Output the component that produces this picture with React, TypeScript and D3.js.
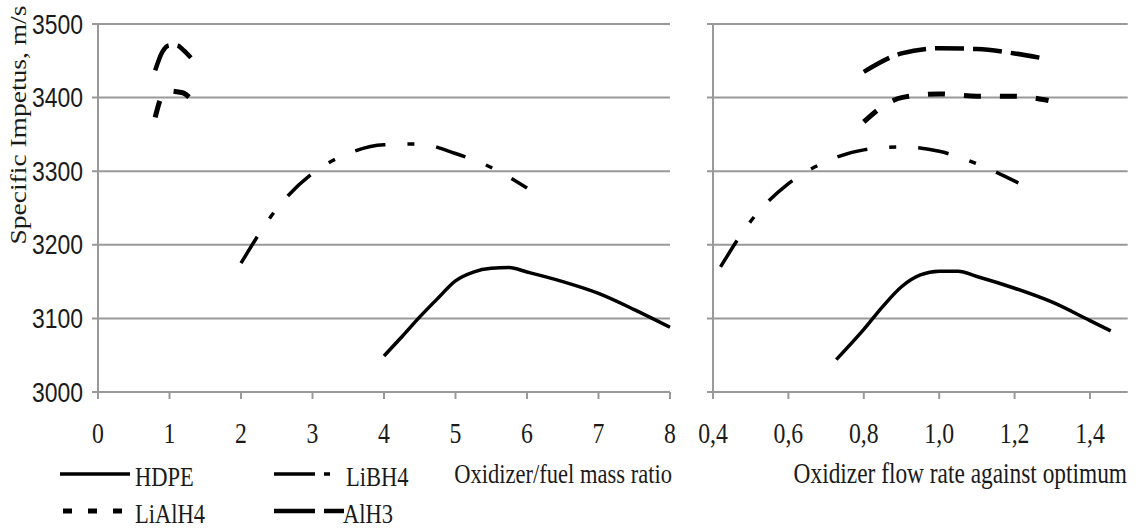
import * as d3 from "d3";

// left panel: oxidizer/fuel mass ratio
const leftHdpeX = [4.0, 4.25, 4.5, 4.75, 5.0, 5.25, 5.5, 5.75, 6.0, 6.5, 7.0, 7.5, 8.0];
const leftHdpeY = [3049, 3075, 3102, 3127, 3151, 3163, 3168, 3169, 3163, 3150, 3134, 3112, 3088];
const leftLibh4X = [2.0, 2.5, 3.0, 3.5, 4.0, 4.5, 5.0, 5.5, 6.0];
const leftLibh4Y = [3175, 3249, 3297, 3324, 3336, 3337, 3324, 3305, 3277];
const leftAlh3X = [0.8, 0.9, 1.0, 1.1, 1.2, 1.3];
const leftAlh3Y = [3437, 3462, 3471, 3471, 3464, 3454];
const leftLialh4X = [0.8, 0.9, 1.0, 1.1, 1.2, 1.3];
const leftLialh4Y = [3373, 3403, 3409, 3408, 3406, 3398];

// right panel: oxidizer flow rate against optimum
const rightHdpeX = [0.727, 0.8, 0.85, 0.9, 0.95, 1.0, 1.05, 1.1, 1.2, 1.3, 1.4, 1.455];
const rightHdpeY = [3044, 3085, 3116, 3143, 3159, 3164, 3164, 3157, 3141, 3122, 3097, 3083];
const rightLibh4X = [0.42, 0.5, 0.6, 0.7, 0.8, 0.9, 1.0, 1.1, 1.21];
const rightLibh4Y = [3170, 3232, 3283, 3313, 3329, 3333, 3327, 3310, 3284];
const rightAlh3X = [0.8, 0.9, 1.0, 1.1, 1.2, 1.28];
const rightAlh3Y = [3435, 3460, 3467, 3466, 3460, 3453];
const rightLialh4X = [0.8, 0.85, 0.9, 1.0, 1.1, 1.2, 1.29];
const rightLialh4Y = [3367, 3388, 3400, 3405, 3402, 3402, 3396];

const yTicks = [3000, 3100, 3200, 3300, 3400, 3500];
const leftXTicks = [0, 1, 2, 3, 4, 5, 6, 7, 8];
const rightXTicks = [0.4, 0.6, 0.8, 1.0, 1.2, 1.4];

const seriesNames = ["HDPE", "LiBH4", "LiAlH4", "AlH3"];

const W = 1139;
const H = 529;
const SX = 0.82; // the picture's text is squeezed sideways
const SERIF = "'Liberation Serif', 'Times New Roman', serif";
const SANS = "'Liberation Sans', Arial, sans-serif";
const GRID = "#999999";

const styles: Record<string, { dash: string; width: number; legendDash: string }> = {
  HDPE: { dash: "none", width: 3.5, legendDash: "none" },
  LiBH4: { dash: "31,22,7,22", width: 3.5, legendDash: "41,9,6,30" },
  LiAlH4: { dash: "17,19", width: 5, legendDash: "9,16" },
  AlH3: { dash: "29,9", width: 4.5, legendDash: "41,9" },
};

function T({ x, y, anchor = "start", size = 27.5, rotate = false, font = SERIF, children }: any) {
  return (
    <text
      transform={`translate(${x},${y}) scale(${SX},1)${rotate ? " rotate(-90)" : ""}`}
      textAnchor={anchor}
      fontSize={size}
      fontFamily={font}
      fill="#1a1a1a"
    >
      {children}
    </text>
  );
}

export default function App() {
  const y = d3.scaleLinear().domain([3000, 3500]).range([392, 24]);
  const xL = d3.scaleLinear().domain([0, 8]).range([98, 670]);
  const xR = d3.scaleLinear().domain([0.4, 1.5]).range([713, 1127.7]);

  const mk = (sx: d3.ScaleLinear<number, number>, xs: number[], ys: number[]) =>
    d3
      .line<number>()
      .x((_, i) => sx(xs[i]))
      .y((v) => y(v))
      .curve(d3.curveMonotoneX)(ys) as string;

  const leftSeries = [
    { name: "HDPE", d: mk(xL, leftHdpeX, leftHdpeY) },
    { name: "LiBH4", d: mk(xL, leftLibh4X, leftLibh4Y) },
    { name: "LiAlH4", d: mk(xL, leftLialh4X, leftLialh4Y) },
    { name: "AlH3", d: mk(xL, leftAlh3X, leftAlh3Y) },
  ];
  const rightSeries = [
    { name: "HDPE", d: mk(xR, rightHdpeX, rightHdpeY) },
    { name: "LiBH4", d: mk(xR, rightLibh4X, rightLibh4Y) },
    { name: "LiAlH4", d: mk(xR, rightLialh4X, rightLialh4Y) },
    { name: "AlH3", d: mk(xR, rightAlh3X, rightAlh3Y) },
  ];

  const panel = (sx: d3.ScaleLinear<number, number>, ticks: number[], series: any[], fmt: (v: number) => string, key: string) => {
    const [x0, x1] = sx.range();
    return (
      <g key={key}>
        {yTicks.map((t) => (
          <line key={t} x1={x0 - 6} x2={x1} y1={y(t)} y2={y(t)} stroke={GRID} strokeWidth={2} />
        ))}
        <line x1={x0} x2={x0} y1={y(3500)} y2={y(3000) + 7} stroke={GRID} strokeWidth={2} />
        {ticks.map((t) => (
          <g key={t}>
            <line x1={sx(t)} x2={sx(t)} y1={y(3000)} y2={y(3000) + 7} stroke={GRID} strokeWidth={2} />
            <T x={sx(t)} y={443} anchor="middle" size={29}>
              {fmt(t)}
            </T>
          </g>
        ))}
        {series.map((s) => (
          <path
            key={s.name}
            d={s.d}
            fill="none"
            stroke="#000"
            strokeWidth={styles[s.name].width}
            strokeDasharray={styles[s.name].dash}
          />
        ))}
      </g>
    );
  };

  const legendPos = [
    { x: 60, y: 474, tx: 135 },
    { x: 274, y: 474, tx: 346 },
    { x: 63, y: 511, tx: 135 },
    { x: 274, y: 511, tx: 343 },
  ];

  return (
    <svg width={W} height={H} style={{ position: "absolute", left: 0, top: 0, background: "#fff" }}>
      <rect width={W} height={H} fill="#fff" />
      {panel(xL, leftXTicks, leftSeries, (v) => String(v), "L")}
      {panel(xR, rightXTicks, rightSeries, (v) => v.toFixed(1).replace(".", ","), "R")}
      {yTicks.map((t) => (
        <T key={t} x={83} y={y(t) + 9.5} anchor="end" size={28} font={SANS}>
          {t}
        </T>
      ))}
      <T x={26} y={125} anchor="middle" size={27.5} rotate>
        Specific Impetus, m/s
      </T>
      <T x={672} y={483} anchor="end">
        Oxidizer/fuel mass ratio
      </T>
      <T x={1127} y={483} anchor="end" size={28.5}>
        Oxidizer flow rate against optimum
      </T>
      {seriesNames.map((n, i) => {
        const p = legendPos[i];
        const end = i % 2 === 0 ? 130 : 344;
        return (
          <g key={n}>
            <line
              x1={p.x}
              x2={end}
              y1={p.y}
              y2={p.y}
              stroke="#000"
              strokeWidth={styles[n].width}
              strokeDasharray={styles[n].legendDash}
            />
            <T x={p.tx} y={p.y + 12}>
              {n}
            </T>
          </g>
        );
      })}
    </svg>
  );
}
